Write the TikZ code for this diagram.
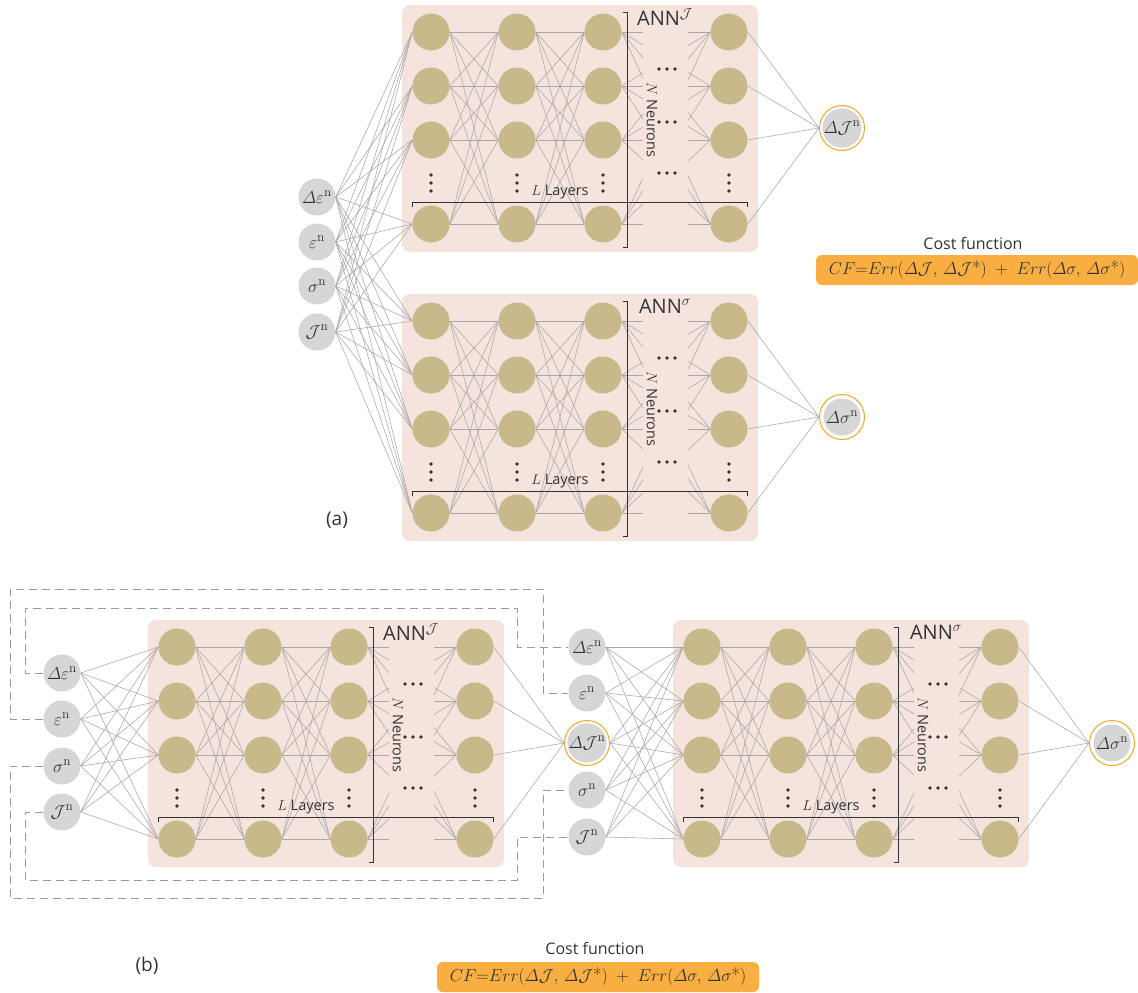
\documentclass[tikz,border=0pt]{standalone}
\usepackage{amsmath}
\usepackage{fontspec}
\setsansfont{Open Sans}
\usetikzlibrary{calc}
\definecolor{neuronc}{HTML}{C8B98A}
\definecolor{netbg}{HTML}{F5E3DD}
\definecolor{ingray}{HTML}{D6D6D6}
\definecolor{ringor}{HTML}{F5A623}
\definecolor{cfor}{HTML}{F8AE40}
\definecolor{connc}{HTML}{A8A8A8}
\definecolor{ink}{HTML}{333333}
\definecolor{fbgray}{HTML}{9A9A9A}
\tikzset{
 neuron/.style={circle, fill=neuronc, minimum size=37pt, inner sep=0pt},
 innode/.style={circle, fill=ingray, minimum size=37pt, inner sep=0pt, text=ink, font=\fontsize{19}{19}\selectfont},
 outring/.style={circle, draw=ringor, line width=1pt, minimum size=45pt, inner sep=0pt},
 conn/.style={draw=connc, line width=0.55pt},
 netbox/.style={fill=netbg, rounded corners=8pt},
 brk/.style={draw=ink, line width=0.9pt},
 fb/.style={draw=fbgray, dash pattern=on 8pt off 5pt, line width=1pt},
 lbl/.style={font=\sffamily\fontsize{14.5}{14.5}\selectfont, text=ink, inner sep=1pt},
 ann/.style={font=\sffamily\fontsize{20}{20}\selectfont, text=ink, inner sep=0pt},
 cftitle/.style={font=\sffamily\fontsize{16}{16}\selectfont, text=ink},
 cfbox/.style={fill=cfor, rounded corners=6pt, inner sep=3pt, minimum height=30pt, minimum width=322pt, text=ink, font=\fontsize{18.5}{18.5}\selectfont},
 partlbl/.style={font=\sffamily\fontsize{19}{19}\selectfont, text=ink},
}
\newcommand\cfformula{$CF{=}Err(\varDelta\mathcal{J},\,\varDelta\mathcal{J}\text{*})\;+\;Err(\varDelta\sigma,\,\varDelta\sigma\text{*})$}
\newcommand\drawnet[4]{%
\begin{scope}[shift={(#2,#3)}]
\fill[netbox] (-29,-27) rectangle (327,220);
\foreach \cc/\cx in {1/0,2/86,3/172,4/298}{
  \foreach \rr/\ry in {1/0,2/54,3/108,4/192}{
    \node[neuron] (#1-\cc-\rr) at (\cx,\ry) {};
  }
}
\foreach \rr in {1,...,4}{\foreach \ss in {1,...,4}{
  \draw[conn] (#1-1-\rr.east) -- (#1-2-\ss.west);
  \draw[conn] (#1-2-\rr.east) -- (#1-3-\ss.west);
  \draw[conn] (#1-3-\rr.east) -- ($(#1-3-\rr.east)!0.24!(#1-4-\ss.west)$);
  \draw[conn] ($(#1-3-\rr.east)!0.75!(#1-4-\ss.west)$) -- (#1-4-\ss.west);
}}
\foreach \cx in {0,86,172,298}{\foreach \dy in {143,151,159}{\fill[ink] (\cx,\dy) circle (1.8pt);}}
\foreach \hy in {37,90,141}{\foreach \dx in {228,236,244}{\fill[ink] (\dx,\hy) circle (1.8pt);}}
\draw[brk] (192,-20) -- (196,-20) -- (196,215) -- (192,215);
\draw[brk] (-19,175) -- (-19,170) -- (316,170) -- (316,175);
\node[lbl] (#1-L) at (129,160) {$L$ Layers};
\node[lbl, rotate=-90] (#1-N) at (221,88) {$N$ Neurons};
\node[ann] (#1-ann) at (234,-15) {ANN$^{#4}$};
\end{scope}}
\begin{document}
\begin{tikzpicture}[x=1pt,y=-1pt]
\fill[white] (0,0) rectangle (1138,993);
\useasboundingbox (0,0) rectangle (1138,993);
% ---------------- (a) ----------------
\drawnet{na}{431}{32}{\mathcal{J}}
\drawnet{nb}{431}{321}{\sigma}
\node[innode] (ia1) at (317,197) {$\varDelta\varepsilon^{\mathrm{n}}$};
\node[innode] (ia2) at (317,242) {$\varepsilon^{\mathrm{n}}$};
\node[innode] (ia3) at (317,286) {$\sigma^{\mathrm{n}}$};
\node[innode] (ia4) at (317,332) {$\mathcal{J}^{\mathrm{n}}$};
\foreach \ii in {1,...,4}{\foreach \rr in {1,...,4}{
  \draw[conn] (ia\ii.east) -- (na-1-\rr.west);
  \draw[conn] (ia\ii.east) -- (nb-1-\rr.west);
}}
\node[outring] (oa1) at (842,128) {};
\node[innode] (oa1in) at (oa1) {$\varDelta\mathcal{J}^{\mathrm{n}}$};
\node[outring] (oa2) at (842,417) {};
\node[innode] (oa2in) at (oa2) {$\varDelta\sigma^{\mathrm{n}}$};
\foreach \rr in {1,...,4}{
  \draw[conn] (na-4-\rr.east) -- (oa1.west);
  \draw[conn] (nb-4-\rr.east) -- (oa2.west);
}
\node[cftitle] (cfat) at (973,243) {Cost function};
\node[cfbox] (cfa) at (977,270) {\cfformula};
\node[partlbl] (pa) at (337,520) {(a)};
% ---------------- (b) ----------------
\drawnet{nc}{177}{647}{\mathcal{J}}
\drawnet{nd}{702}{647}{\sigma}
\node[innode] (ib1) at (62,673) {$\varDelta\varepsilon^{\mathrm{n}}$};
\node[innode] (ib2) at (62,719) {$\varepsilon^{\mathrm{n}}$};
\node[innode] (ib3) at (62,766) {$\sigma^{\mathrm{n}}$};
\node[innode] (ib4) at (62,812) {$\mathcal{J}^{\mathrm{n}}$};
\foreach \ii in {1,...,4}{\foreach \rr in {1,...,4}{
  \draw[conn] (ib\ii.east) -- (nc-1-\rr.west);
}}
\node[outring] (oJb) at (587,743) {};
\node[innode] (oJbin) at (oJb) {$\varDelta\mathcal{J}^{\mathrm{n}}$};
\foreach \rr in {1,...,4}{\draw[conn] (nc-4-\rr.east) -- (oJb.west);}
\node[innode] (ic1) at (587,647) {$\varDelta\varepsilon^{\mathrm{n}}$};
\node[innode] (ic2) at (587,693) {$\varepsilon^{\mathrm{n}}$};
\node[innode] (ic3) at (587,790) {$\sigma^{\mathrm{n}}$};
\node[innode] (ic4) at (587,837) {$\mathcal{J}^{\mathrm{n}}$};
\foreach \rr in {1,...,4}{
  \foreach \ii in {1,...,4}{\draw[conn] (ic\ii.east) -- (nd-1-\rr.west);}
  \draw[conn] (oJb.east) -- (nd-1-\rr.west);
}
\node[outring] (oSb) at (1112,743) {};
\node[innode] (oSbin) at (oSb) {$\varDelta\sigma^{\mathrm{n}}$};
\foreach \rr in {1,...,4}{\draw[conn] (nd-4-\rr.east) -- (oSb.west);}
% feedback loops
\coordinate (fa1) at (25,608); \coordinate (fa2) at (517,608);
\coordinate (fb1) at (10,589); \coordinate (fb2) at (543,589);
\coordinate (fc1) at (10,898); \coordinate (fc2) at (543,898);
\coordinate (fd1) at (25,880); \coordinate (fd2) at (517,880);
\draw[fb] (ib1.west) -| (fa1) -- (fa2) |- (ic1.west);
\draw[fb] (ib2.west) -| (fb1) -- (fb2) |- (ic2.west);
\draw[fb] (ib3.west) -| (fc1) -- (fc2) |- (ic3.west);
\draw[fb] (ib4.west) -| (fd1) -- (fd2) |- (ic4.west);
\node[cftitle] (cfbt) at (595,948) {Cost function};
\node[cfbox] (cfb) at (598,977) {\cfformula};
\node[partlbl] (pb) at (147,966) {(b)};
\end{tikzpicture}
\end{document}
